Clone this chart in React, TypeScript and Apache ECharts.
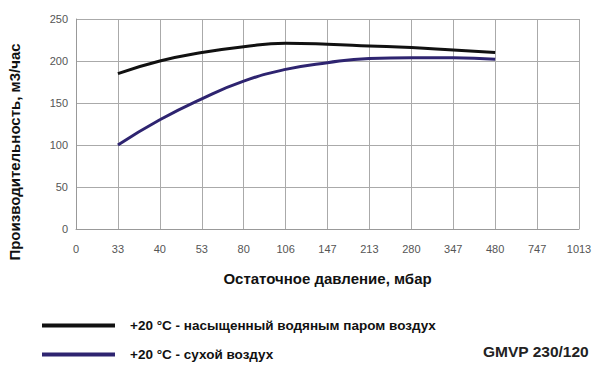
import React, { useEffect, useRef } from "react";
import * as echarts from "echarts";

const pressures = ["0", "33", "40", "53", "80", "106", "147", "213", "280", "347", "480", "747", "1013"];
const saturatedAir = [null, 185, 200, 210, 217, 221, 220, 218, 216, 213, 210, null, null];
const dryAir = [null, 100, 130, 155, 176, 190, 198, 203, 204, 204, 202, null, null];
const seriesNames = ["+20 °C - насыщенный водяным паром воздух", "+20 °C - сухой воздух"];
const yTitle = "Производительность, м3/час";
const xTitle = "Остаточное давление, мбар";
const modelName = "GMVP 230/120";

export default function App() {
  const ref = useRef<HTMLDivElement>(null);
  useEffect(() => {
    if (!ref.current) return;
    const chart = echarts.init(ref.current, null, { renderer: "svg" });
    const font = "Liberation Sans, Arial, sans-serif";
    chart.setOption({
      animation: false,
      backgroundColor: "#ffffff",
      grid: { left: 76, right: 21, top: 19, bottom: 143 },
      xAxis: {
        type: "category",
        data: pressures,
        boundaryGap: false,
        axisLine: { lineStyle: { color: "#999", width: 1 } },
        axisTick: { show: false },
        axisLabel: { color: "#555", fontSize: 11, fontFamily: font, margin: 14 },
        splitLine: { show: true, lineStyle: { color: "#aaa", width: 1 } },
        name: xTitle,
        nameLocation: "middle",
        nameGap: 42,
        nameTextStyle: { color: "#111", fontSize: 15, fontWeight: "bold", fontFamily: font },
      },
      yAxis: {
        type: "value",
        min: 0,
        max: 250,
        interval: 50,
        axisLine: { show: true, lineStyle: { color: "#999", width: 1 } },
        axisTick: { show: false },
        axisLabel: { color: "#555", fontSize: 11, fontFamily: font, margin: 8 },
        splitLine: { show: true, lineStyle: { color: "#aaa", width: 1 } },
      },
      legend: {
        orient: "vertical",
        left: 37,
        top: 313,
        itemWidth: 73,
        itemHeight: 4,
        itemGap: 14,
        icon: "rect",
        textStyle: { color: "#111", fontSize: 13.5, fontWeight: "bold", fontFamily: font, lineHeight: 15, padding: [0, 0, 0, 10] },
        data: seriesNames,
      },
      graphic: [
        {
          type: "text",
          x: 14,
          y: 152,
          rotation: Math.PI / 2,
          style: {
            text: yTitle,
            fill: "#111",
            font: "bold 15px " + font,
            align: "center",
            verticalAlign: "middle",
          },
        },
        {
          type: "text",
          right: 11,
          top: 343,
          style: { text: modelName, fill: "#222", font: "bold 15.5px " + font },
        },
      ],
      series: [
        {
          name: seriesNames[0],
          type: "line",
          data: saturatedAir,
          smooth: true,
          showSymbol: false,
          itemStyle: { color: "#111111" },
          lineStyle: { color: "#111111", width: 3 },
        },
        {
          name: seriesNames[1],
          type: "line",
          data: dryAir,
          smooth: true,
          showSymbol: false,
          itemStyle: { color: "#2e2470" },
          lineStyle: { color: "#2e2470", width: 3 },
        },
      ],
    });
    return () => chart.dispose();
  }, []);
  return <div ref={ref} style={{ width: 600, height: 372, position: "absolute", left: 0, top: 0 }} />;
}
